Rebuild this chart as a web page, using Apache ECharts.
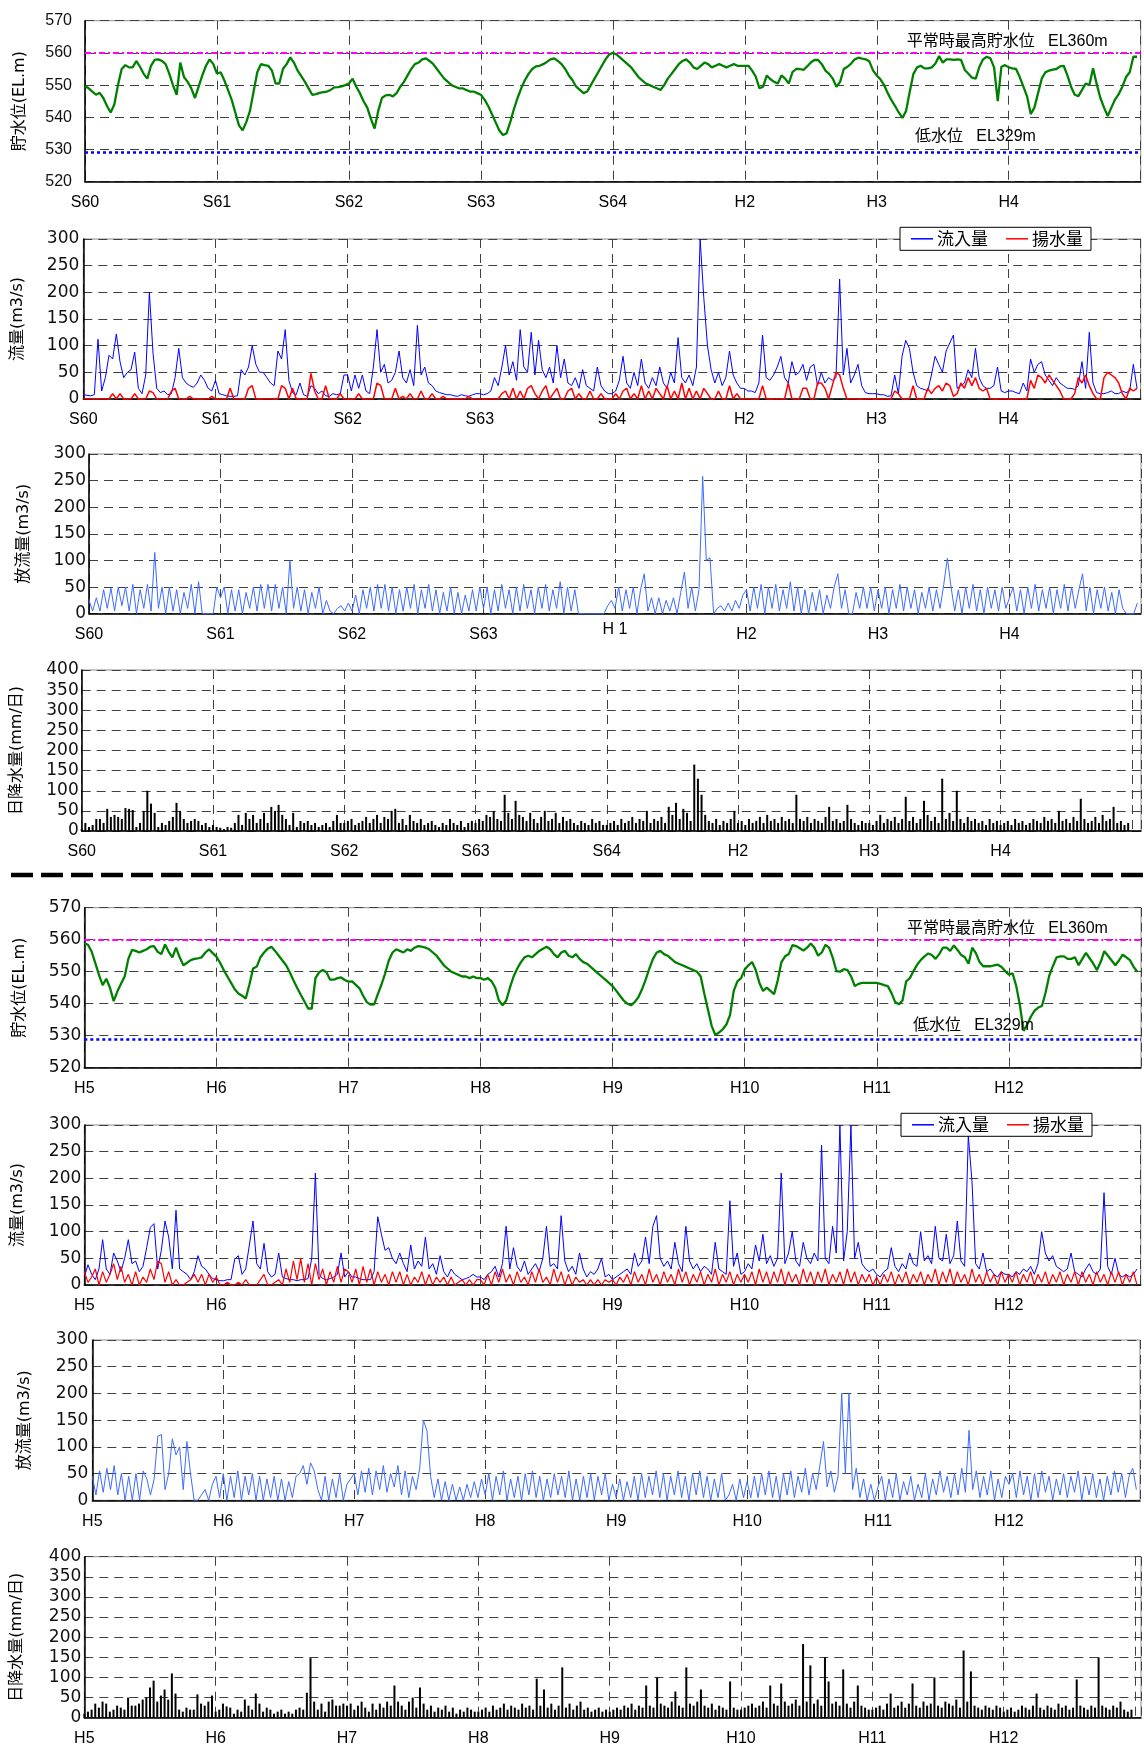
<!DOCTYPE html>
<html><head><meta charset="utf-8">
<script src="https://cdn.jsdelivr.net/npm/echarts@6/dist/echarts.min.js"></script>
<style>html,body{margin:0;padding:0;background:#fff}#c{width:1144px;height:1749px}</style>
</head><body><div id="c"></div>
<script>
// ---------- tick labels ----------
const yearLabelsTop = ['S60','S61','S62','S63','S64','H2','H3','H4'];
const yearLabelsDis = ['S60','S61','S62','S63','H 1','H2','H3','H4'];
const yearLabelsBot = ['H5','H6','H7','H8','H9','H10','H11','H12'];
const maxLevel = 560, lowLevel = 529;
const maxLevelText = '平常時最高貯水位   EL360m';
const lowLevelText = '低水位   EL329m';

// ---------- data: one row per year, ~10-day (dekad) readings ----------
// 貯水位 S60–H4
const levelTop = [
[549.7,549,548,547,547.6,546,543.5,541.5,544,550,555,556.2,555.5,555.5,557.5,555.7,553.5,552,556,557.8,558,557.5,556.5,553.5,550,547,557,552.5,551,549,546,549.5,553,556,558,556.5],
[553.6,554,551.5,548.5,545.5,541.5,537.5,536,538.5,542,548,554,556.5,556.2,556,554.5,550.5,550.5,555,556.5,558.6,557,554.5,552.8,551,549,547,547.2,547.6,547.8,548,548.5,549.3,549.4,549.6,550],
[550.5,552,549.5,547.5,545,543,539.5,536.5,542,546,546.8,547,546.5,547.5,549.5,551,553,555,556.5,557,558,558.3,557.5,556.5,555,553.5,552,551,550,549.5,549,549,548.5,548,548,547.5],
[547,545.5,543.5,541,538.5,536,534.5,535,538.5,542.5,546,549,551.5,553.5,555,555.8,556,556.5,557.2,558,558.3,557.5,556.5,555,553,551.5,549.5,548.5,547.5,548,550,552,554,556,558,559.5],
[560,559.5,558.5,557.5,556.5,555.5,554,552.5,551.5,550.5,550,549.5,549,548.5,550,552,553.5,555,556.5,557.5,558,557,555.5,555,556,557,556.5,555.5,556,556.5,556,555.5,556,556.5,556,556],
[556,556,554.5,552.6,549,549.5,553,551.8,551,550.5,553,552,550.5,554,555,555,554.7,555.8,557,557.8,557.8,556.5,554.5,553.5,552,549.5,551,555,555.7,556.7,558,558.5,558.2,558,557.3,554.5],
[553,551.8,550,547.5,545.3,543.5,541.5,539.8,542,548,553.5,555.5,556,555.2,555.2,555.5,556.7,559,557,558,558,557.8,558,557.8,554.7,553.5,552.3,552,555.7,558,558.8,558.3,555.5,545,555.7,556.2],
[555.5,555.2,555,552.5,549.5,546.5,541,543,547.5,552,554,554.5,554.8,555,555.8,556,553,549.5,547,546.6,548.5,550.5,550,555.2,550.3,546,543,540.4,543,545.5,547.2,549.5,552.5,554,558.8,558.8]
];
// 流入量 S60–H4
const inflowTop = [
[8,7,6,8,112,15,40,82,75,122,70,40,50,55,88,20,10,45,200,85,20,12,15,8,10,40,95,40,30,25,22,30,45,35,20,15],
[35,10,8,6,5,5,6,55,45,60,100,65,50,50,40,30,25,90,75,130,35,12,8,30,8,5,25,20,10,15,6,5,10,8,10,45],
[45,15,45,20,45,15,10,60,130,50,65,30,35,50,90,40,30,55,25,138,45,60,30,25,15,12,10,8,8,6,5,8,6,5,8,10],
[10,8,10,15,40,25,60,100,45,70,35,130,60,50,125,45,110,55,40,60,30,100,40,75,30,25,40,20,55,25,20,15,60,25,15,10],
[10,15,35,80,30,20,50,25,75,30,20,40,25,60,30,20,50,30,115,40,30,45,25,60,300,190,100,55,30,50,25,40,90,45,30,20],
[20,15,15,12,30,120,40,35,45,60,80,40,30,70,45,50,65,35,60,65,25,50,30,40,35,40,225,45,95,30,45,65,25,12,10,10],
[10,8,8,5,6,45,10,80,110,95,50,25,20,18,15,45,80,65,50,90,105,120,20,25,30,55,40,95,40,25,20,20,25,60,15,12],
[15,15,12,10,30,15,75,50,65,70,45,35,25,40,30,25,20,20,18,25,70,20,125,30,12,10,10,12,15,10,10,15,12,15,65,20]
];
// 揚水量 S60–H4
const pumpTop = [
[0,0,0,0,0,0,0,0,10,0,10,0,0,0,10,0,0,0,15,12,0,0,0,0,15,20,0,0,0,5,0,0,0,0,0,5],
[0,0,0,0,20,0,0,0,0,20,25,0,0,0,0,0,0,0,25,20,0,20,0,0,0,0,48,15,0,0,25,0,0,0,10,0],
[0,0,0,10,0,0,0,0,30,25,0,0,0,20,0,5,0,10,0,0,15,0,0,10,0,0,5,0,0,0,0,0,0,5,0,0],
[0,0,0,0,0,0,10,15,0,20,0,15,0,20,25,10,0,15,25,0,10,20,0,0,15,20,0,10,0,0,15,0,0,10,0,0],
[0,10,0,15,20,0,10,0,25,0,15,0,20,10,0,25,0,15,0,30,0,20,0,15,0,20,10,0,0,15,0,0,25,0,10,0],
[0,0,0,0,0,25,0,0,0,0,0,0,30,0,0,0,20,20,0,0,30,30,20,0,25,50,45,20,0,0,0,0,0,0,0,0],
[0,0,0,0,0,15,10,0,0,0,25,0,0,0,20,10,20,25,15,30,25,5,10,30,20,40,25,40,20,15,20,0,0,0,0,0],
[0,0,0,0,0,0,35,20,45,40,30,45,35,25,15,0,0,0,10,40,30,45,25,10,0,0,40,50,45,40,30,10,0,20,15,20]
];
// 放流量 S60–H4
const dischargeTop = [
[25,5,30,5,45,10,48,5,50,15,50,5,55,0,45,10,55,5,115,10,50,0,50,5,45,0,40,10,55,0,60,0,0,0,0,50],
[30,50,0,45,5,45,0,40,10,50,5,55,10,55,5,55,10,50,0,100,10,50,5,45,0,40,10,50,0,25,5,0,10,15,5,20],
[5,35,0,45,10,50,5,55,10,55,5,50,0,45,5,50,10,55,0,45,10,55,5,45,0,40,5,50,0,40,0,35,5,45,5,50],
[10,50,0,45,5,55,10,45,0,50,5,55,10,45,0,50,10,55,5,45,10,60,0,50,5,45,0,0,0,0,0,0,0,0,15,25],
[10,50,5,45,10,50,0,45,75,5,30,0,30,0,25,5,30,0,40,78,10,50,5,45,258,100,105,0,10,15,5,20,5,25,10,35],
[45,5,50,10,55,0,50,10,55,5,45,10,60,5,50,0,45,0,40,5,45,0,35,10,50,75,10,45,0,0,40,10,50,10,50,5],
[45,10,50,0,45,10,55,5,50,10,45,0,40,10,50,5,45,10,55,104,50,5,45,0,50,10,55,5,45,0,50,10,45,5,50,10],
[30,50,5,45,0,50,10,55,5,45,10,50,0,45,10,55,5,50,10,45,75,5,50,0,45,10,50,5,40,0,45,10,0,0,0,20]
];
// 日降水量 S60–H4
const rainTop = [
[5,20,10,15,30,30,20,55,35,40,35,30,57,55,52,10,20,50,100,68,45,10,20,15,25,35,70,50,30,20,25,30,25,15,20,10],
[15,10,8,5,10,8,20,40,15,45,30,40,20,30,45,20,60,50,65,40,30,15,45,10,25,20,25,15,20,10,15,20,10,25,40,20],
[20,25,30,15,20,25,35,20,30,40,20,35,30,50,55,20,30,15,40,25,20,30,15,20,25,15,10,20,15,30,20,15,25,10,20,25],
[20,30,25,40,35,50,30,25,90,45,30,75,40,35,25,45,30,20,35,50,25,30,45,20,35,25,30,20,15,25,20,15,30,20,25,15],
[15,20,25,15,30,20,25,35,20,30,25,50,20,30,25,35,20,60,40,70,30,55,45,25,165,130,90,40,25,20,30,15,25,20,30,50],
[20,25,15,30,20,25,35,20,40,25,30,20,35,25,30,20,90,30,25,35,20,30,25,20,35,60,25,30,20,25,65,30,20,15,25,20],
[20,15,25,40,20,30,25,35,20,30,85,25,35,20,30,75,40,25,35,20,130,30,45,25,100,30,20,35,25,30,20,25,15,30,20,25],
[15,20,25,15,30,20,25,15,20,30,25,20,35,25,30,20,50,25,30,20,35,25,80,30,20,25,35,20,40,25,30,60,20,25,15,20]
];
// 貯水位 H5–H12
const levelBot = [
[558.9,558.4,556.3,552.7,549,545.8,547.8,545,540.8,543.8,546.2,548.5,554,556.8,556.5,556,556.5,557,557.8,558,556.2,555.5,558.5,556.2,554.5,557.5,554.5,552,552.8,553.6,554,554.2,554.5,556,557,555.8],
[554.7,552.8,550.5,548.5,546.5,544.5,543.2,542.5,541.6,546,551,551.6,554.5,556,557.2,557.8,556.5,555,553.5,552,549.8,547.3,545,542.8,540.7,538.5,538.5,548,549.8,550.5,549.8,547.5,547.5,548,548.2,547.4],
[546.9,547,545.9,544.8,542.5,540.5,539.7,539.8,543,546,549.5,553.5,556,557,556.5,556,557,556.5,557.5,558,557.8,557.5,557,556,555,553.5,552,551,550,549.5,549,548.5,548.5,548,548.5,548],
[548,547.5,548,547,545,541,539.5,541,545,548.5,551,553,554.5,555,554.5,555.5,556.5,557.2,557.8,557,555.5,554.5,556,556.5,555,554.5,555.5,554,553,552.5,551.5,550.5,549.5,548.5,547.5,546.5],
[545.5,544,542.5,541,540,539.5,540.5,542,544.5,547.5,551,554,556,556.5,555.5,555,554,553,552.5,552,551.5,551,550.5,550,548.5,543,538,533,530.2,531,532,533.5,536.5,544,547,548],
[550.7,552,553,550.5,546.5,544,545,544,543,547.3,553,554.8,555.5,558.3,558,557.3,556.6,557.5,558.8,557.5,555,556,558.4,557.5,554.3,550.2,550,550.8,550.5,548.5,545.5,546.2,546.5,546.5,546.5,546.5],
[546.5,546.2,545.8,545.5,543.3,540.5,539.8,541,547,548,550.2,552.2,553.7,554.8,555.7,555.2,554,555.5,557.5,557.5,556.5,558.2,556.8,555.2,554.5,552.5,557.5,555.8,553,551.7,551.7,551.7,552,552.2,551.5,550.2],
[549.1,549.5,545.5,539.5,531.5,533.5,536,537.8,538.8,539.3,543.5,548.8,551.8,554.5,554.8,554.8,554,554,554.5,552,554,555.9,554.2,552.5,550.5,553,556.4,555,553.5,552,553.5,555.3,554.5,553.6,551.5,550]
];
// 流入量 H5–H12
const inflowBot = [
[15,38,20,10,30,85,30,20,60,45,25,50,85,40,45,25,35,70,108,115,30,65,120,90,30,140,30,25,20,10,25,55,35,30,20,12],
[10,8,8,10,10,48,55,20,30,75,120,40,30,78,25,15,20,60,15,12,10,10,8,10,10,12,50,210,20,12,10,12,15,20,60,15],
[25,15,15,12,10,10,10,25,128,95,65,70,50,40,60,40,25,75,30,45,35,90,30,40,20,55,25,15,30,20,15,10,12,15,20,15],
[15,10,20,25,35,15,40,110,30,70,35,25,45,20,30,40,25,50,110,35,40,30,130,45,25,35,20,60,30,15,25,20,30,50,15,20],
[10,15,20,25,30,20,60,35,45,90,40,110,130,50,35,45,30,80,40,25,110,45,30,40,25,35,30,20,80,30,25,20,158,35,60,20],
[25,40,30,75,45,95,40,55,35,50,210,40,60,100,45,35,80,50,40,60,45,262,50,40,110,60,300,45,100,300,50,80,40,30,25,30],
[20,15,25,30,70,35,25,40,30,60,40,35,100,45,55,40,110,50,45,95,40,55,120,45,35,280,195,40,30,60,25,30,20,15,25,20],
[20,15,25,20,30,25,35,20,40,100,60,45,55,35,30,25,30,60,25,20,15,30,40,25,20,30,173,35,20,50,20,15,20,15,20,30]
];
// 揚水量 H5–H12
const pumpBot = [
[25,5,15,30,0,25,5,20,40,10,35,5,20,0,25,0,15,5,30,10,45,40,5,25,0,10,0,0,5,10,20,5,20,0,20,5],
[15,0,0,5,0,0,5,0,10,0,0,0,10,20,0,0,5,10,0,30,5,45,10,50,5,40,0,40,10,30,0,25,5,35,5,30],
[25,5,30,0,35,5,30,0,25,5,20,0,25,5,25,0,20,0,15,5,25,0,20,0,15,5,15,0,15,0,5,10,0,10,0,10],
[10,0,20,0,25,5,30,5,20,0,25,5,15,0,25,5,30,5,15,0,30,5,25,0,20,0,15,5,10,0,10,0,10,0,10,5],
[10,0,15,5,20,0,25,5,20,0,30,5,20,0,25,5,20,0,30,5,25,0,20,5,25,0,20,5,30,0,20,5,25,0,20,5],
[20,5,25,0,30,5,25,0,25,5,30,0,25,5,20,0,30,5,25,0,25,5,30,0,20,5,25,0,30,5,25,0,20,5,20,0],
[15,0,20,5,25,0,20,5,25,0,20,5,25,0,20,5,30,0,25,5,30,0,25,5,20,0,30,5,20,0,25,5,20,0,25,5],
[20,5,25,0,20,5,25,0,20,5,25,0,20,5,25,0,20,5,25,0,25,5,20,0,25,5,20,0,25,5,25,0,20,5,25,0]
];
// 放流量 H5–H12
const dischargeBot = [
[45,10,55,15,60,20,65,10,50,0,45,0,50,0,55,40,10,40,120,123,20,50,115,85,100,20,110,50,0,0,10,20,0,30,45,5],
[50,0,45,5,55,0,45,10,50,0,45,0,40,5,45,0,40,0,35,5,45,50,65,30,70,55,20,0,45,0,40,5,50,0,30,40],
[50,10,55,15,60,10,55,20,65,15,50,25,65,10,55,5,45,20,60,150,130,45,5,40,0,35,0,30,0,25,0,30,5,35,5,40],
[10,50,0,45,10,55,0,40,5,45,0,50,10,55,5,45,0,40,5,50,10,45,5,55,0,40,0,45,5,50,0,45,10,50,0,30],
[5,40,0,35,5,45,0,50,5,45,10,55,5,50,0,45,10,55,5,45,0,50,10,55,5,45,0,40,5,50,0,10,30,0,40,5],
[35,5,45,5,50,10,55,5,45,0,50,10,55,5,45,15,60,10,50,20,65,110,25,55,15,45,200,50,200,20,60,5,40,0,30,0],
[25,45,0,40,5,50,0,35,10,45,0,30,5,50,0,40,10,55,15,45,5,50,10,60,15,131,20,55,5,45,10,55,0,40,5,45],
[30,50,5,55,10,45,0,50,5,55,15,45,0,40,10,50,5,45,15,55,0,45,10,50,5,40,0,45,10,55,15,50,5,45,60,20]
];
// 日降水量 H5–H12
const rainBot = [
[10,15,20,35,25,40,35,15,20,30,25,20,50,30,30,35,45,50,75,92,40,55,70,45,110,60,20,15,25,20,20,58,35,30,40,55],
[15,20,35,28,25,10,20,15,45,30,20,60,35,15,25,20,10,15,20,10,15,10,20,25,20,62,148,40,20,35,15,40,45,30,30,35],
[30,35,20,30,40,25,15,35,20,35,25,40,30,80,40,30,20,40,50,25,75,35,20,30,15,25,20,30,15,25,10,20,15,25,20,15],
[15,20,25,15,30,20,25,35,20,30,25,20,35,25,30,20,97,30,70,25,35,20,30,125,25,35,20,30,40,20,25,15,20,25,15,20],
[15,20,25,20,30,25,35,20,30,25,80,30,25,100,35,30,25,40,65,30,25,125,35,30,40,70,30,25,35,20,30,25,20,90,25,20],
[20,25,30,35,25,30,40,25,80,35,30,85,40,30,35,45,30,183,40,130,35,45,30,150,90,35,40,30,120,35,25,40,80,30,25,20],
[20,25,30,20,35,60,25,30,40,25,35,85,30,25,40,30,35,100,30,25,40,35,30,45,25,167,40,115,30,25,20,30,25,20,30,25],
[15,20,25,15,20,30,25,20,30,60,25,20,30,25,20,35,25,30,20,25,95,30,25,20,30,25,150,30,25,20,30,25,40,20,15,20]
];

// ---------- build ----------
function toPts(rows){const out=[];rows.forEach((r,y)=>r.forEach((v,k)=>out.push([y+k/r.length,v])));return out;}

const LAT = "'Liberation Sans','Noto Sans CJK JP',sans-serif";
const DJV = "'DejaVu Sans','Noto Sans CJK JP',sans-serif";

const panels = [
 {left:85,  top:20.7,  width:1055.7, height:161,   ymin:520, ymax:570, yint:10, name:'貯水位(EL.m)',     labels:yearLabelsTop, tickFont:LAT, tickSize:16, tickMargin:13, gap:57},
 {left:83.3,top:239,   width:1057.4, height:160,   ymin:0,   ymax:300, yint:50, name:'流量(m3/s)',       labels:yearLabelsTop, tickFont:DJV, tickSize:17, tickMargin:4,  gap:57},
 {left:89,  top:454,   width:1053,   height:159.7, ymin:0,   ymax:300, yint:50, name:'放流量(m3/s)',     labels:yearLabelsDis, tickFont:DJV, tickSize:17, tickMargin:3,  gap:57, skip:4},
 {left:81.7,top:670,   width:1059.3, height:161,   ymin:0,   ymax:400, yint:50, name:'日降水量(mm/日)',  labels:yearLabelsTop, tickFont:DJV, tickSize:17, tickMargin:3,  gap:57, xmax:8.07},
 {left:84.3,top:907.7, width:1058,   height:160,   ymin:520, ymax:570, yint:10, name:'貯水位(EL.m)',     labels:yearLabelsBot, tickFont:DJV, tickSize:17, tickMargin:3,  gap:56},
 {left:84.3,top:1125,  width:1056.4, height:160,   ymin:0,   ymax:300, yint:50, name:'流量(m3/s)',       labels:yearLabelsBot, tickFont:DJV, tickSize:17, tickMargin:3,  gap:58},
 {left:92.3,top:1340,  width:1047.7, height:160.3, ymin:0,   ymax:300, yint:50, name:'放流量(m3/s)',     labels:yearLabelsBot, tickFont:DJV, tickSize:17, tickMargin:4,  gap:59},
 {left:84.3,top:1556.7,width:1056.7, height:161,   ymin:0,   ymax:400, yint:50, name:'日降水量(mm/日)',  labels:yearLabelsBot, tickFont:DJV, tickSize:17, tickMargin:3,  gap:59, xmax:8.045}
];

const dashed = {color:'#404040', type:[9,6], width:1};
const grids=[], xAxes=[], yAxes=[];
panels.forEach((p,i)=>{
  grids.push({left:p.left, top:p.top, width:p.width, height:p.height, show:true, borderColor:'#8c8c8c', borderWidth:1, containLabel:false});
  xAxes.push({type:'value', gridIndex:i, min:0, max:p.xmax||8, interval:1,
    axisLine:{show:true, onZero:false, lineStyle:{color:'#000', width:1.5}}, axisTick:{show:false},
    splitLine:{show:true, lineStyle:dashed},
    axisLabel:{margin:13, fontFamily:LAT, fontSize:16, color:'#000', showMaxLabel:true,
      formatter:v=>{const k=Math.round(v); if(Math.abs(v-k)>1e-6||k===p.skip) return ''; return p.labels[k]||'';}}});
  yAxes.push({type:'value', gridIndex:i, min:p.ymin, max:p.ymax, interval:p.yint,
    axisLine:{show:true, lineStyle:{color:'#000', width:1.5}}, axisTick:{show:false},
    splitLine:{show:true, lineStyle:dashed},
    axisLabel:{margin:p.tickMargin, fontFamily:p.tickFont, fontSize:p.tickSize, color:'#111'},
    name:p.name, nameLocation:'middle', nameGap:p.gap, nameRotate:90,
    nameTextStyle:{fontFamily:DJV, fontSize:16, color:'#000'}});
});
// slightly raised "H 1" label of the discharge panel
xAxes.push({type:'value', gridIndex:2, min:0, max:8, interval:1, position:'bottom', offset:0,
  axisLine:{show:false}, axisTick:{show:false}, splitLine:{show:false},
  axisLabel:{margin:8, fontFamily:LAT, fontSize:16, color:'#000',
    formatter:v=>{const k=Math.round(v); return (Math.abs(v-k)<1e-6&&k===4)?yearLabelsDis[4]:'';}}});

function levelSeries(rows, gi){
  return {type:'line', name:'貯水位'+gi, xAxisIndex:gi, yAxisIndex:gi, data:toPts(rows), showSymbol:false, symbol:'none',
    lineStyle:{color:'#008000', width:2.3}, itemStyle:{color:'#008000'}, z:5,
    markLine:{silent:true, symbol:'none', label:{show:false}, animation:false,
      data:[{yAxis:maxLevel, lineStyle:{color:'#ff00ff', type:[6,3,2,3], width:2}},
            {yAxis:lowLevel, lineStyle:{color:'#0000ff', type:[3,3], width:2.5}}]}};
}
function lineSeries(name, rows, gi, color, w, z){
  return {type:'line', name, xAxisIndex:gi, yAxisIndex:gi, data:toPts(rows), showSymbol:false, symbol:'none',
    lineStyle:{color, width:w}, itemStyle:{color}, z};
}
function rainSeries(rows, gi){
  return {type:'bar', name:'日降水量'+gi, xAxisIndex:gi, yAxisIndex:gi, data:toPts(rows), barWidth:2,
    itemStyle:{color:'#000'}, z:3};
}

const series = [
  levelSeries(levelTop,0),
  lineSeries('流入量', inflowTop, 1, '#0000ff', 1, 3),
  lineSeries('揚水量', pumpTop, 1, '#ff0000', 1.5, 4),
  lineSeries('放流量0', dischargeTop, 2, '#3d6bff', 1, 3),
  rainSeries(rainTop,3),
  levelSeries(levelBot,4),
  lineSeries('流入量', inflowBot, 5, '#0000ff', 1, 3),
  lineSeries('揚水量', pumpBot, 5, '#ff0000', 1.2, 4),
  lineSeries('放流量1', dischargeBot, 6, '#3d6bff', 1, 3),
  rainSeries(rainBot,7)
];

function legendAt(left, top){
  return {left, top, orient:'horizontal', data:['流入量','揚水量'], icon:'rect', itemWidth:22, itemHeight:1.5, itemGap:18,
    backgroundColor:'#fff', borderColor:'#000', borderWidth:1, padding:[3,8,3,11],
    textStyle:{fontFamily:"'Noto Sans CJK JP',sans-serif", fontSize:17, color:'#000', padding:[0,0,0,-1]}, selectedMode:false};
}

const annFont = "16px 'Liberation Sans','Noto Sans CJK JP',sans-serif";
const graphic = [
  {type:'text', x:906.7, y:41.7, style:{text:maxLevelText, font:annFont, fill:'#000', verticalAlign:'middle'}, z:50},
  {type:'text', x:915,   y:136.7, style:{text:lowLevelText, font:annFont, fill:'#000', verticalAlign:'middle'}, z:50},
  {type:'text', x:907,   y:928.3, style:{text:maxLevelText, font:annFont, fill:'#000', verticalAlign:'middle'}, z:50},
  {type:'text', x:913,   y:1025.7, style:{text:lowLevelText, font:annFont, fill:'#000', verticalAlign:'middle'}, z:50},
  {type:'line', shape:{x1:11, y1:875, x2:1143, y2:875}, style:{stroke:'#000', lineWidth:4.5, lineDash:[22,8]}, z:50}
];

const chart = echarts.init(document.getElementById('c'), null, {renderer:'canvas'});
chart.setOption({
  backgroundColor:'#fff', animation:false,
  textStyle:{fontFamily:LAT},
  grid:grids, xAxis:xAxes, yAxis:yAxes, series,
  legend:[legendAt(900,227.3), legendAt(901,1113.3)],
  graphic
});
</script></body></html>
